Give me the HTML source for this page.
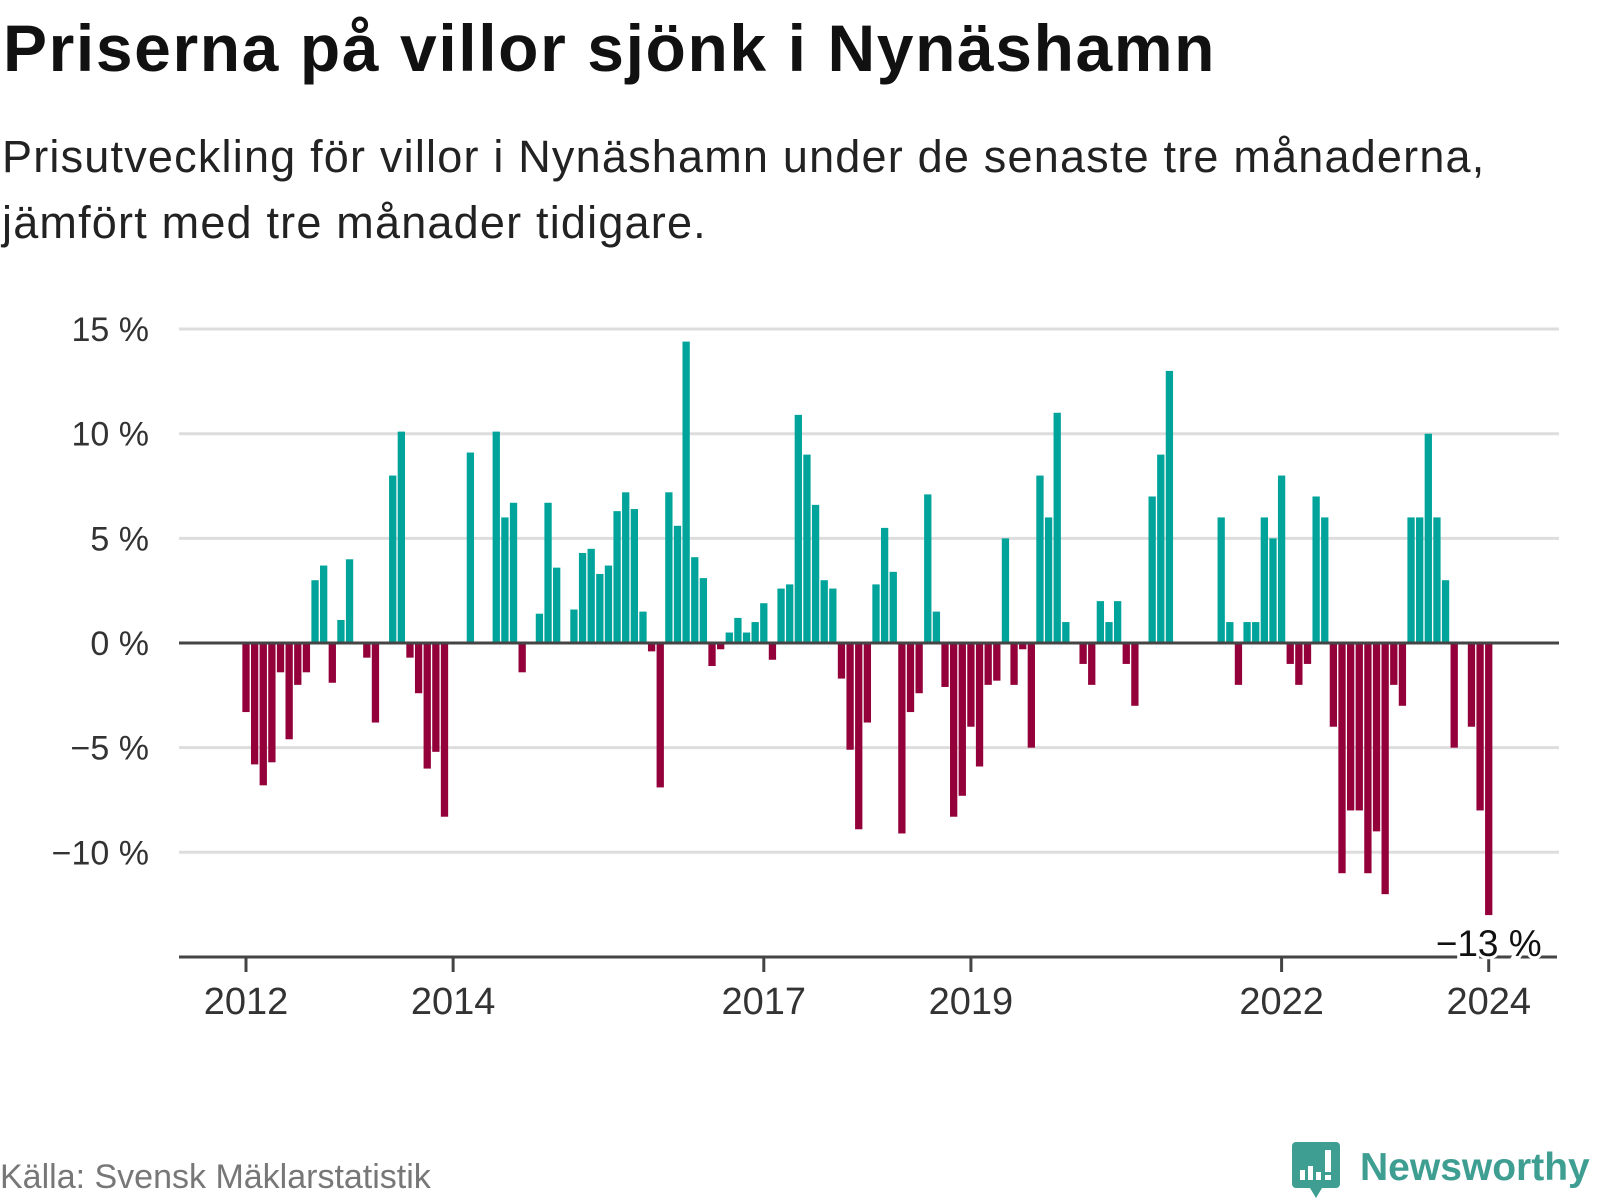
<!DOCTYPE html>
<html><head><meta charset="utf-8"><style>
html,body{margin:0;padding:0;background:#fff;}
body{width:1600px;height:1200px;position:relative;overflow:hidden;font-family:"Liberation Sans",sans-serif;}
.t{position:absolute;white-space:nowrap;}
</style></head><body>
<div class="t" style="left:3px;top:10px;font-size:66px;letter-spacing:1.6px;font-weight:bold;color:#111;">Priserna på villor sjönk i Nynäshamn</div>
<div class="t" style="left:2px;top:124px;font-size:45px;letter-spacing:1.2px;line-height:66px;color:#222;">Prisutveckling för villor i Nynäshamn under de senaste tre månaderna,<br>jämfört med tre månader tidigare.</div>
<svg id="chart" width="1600" height="1200" style="position:absolute;left:0;top:0;" xmlns="http://www.w3.org/2000/svg"></svg>
<div class="t" style="left:0;top:1158px;font-size:34px;color:#777;">Källa: Svensk Mäklarstatistik</div>
<div style="position:absolute;left:1292px;top:1142px;width:308px;height:58px;">
<svg width="50" height="58" style="position:absolute;left:0;top:0"><path d="M4 0H44a4 4 0 0 1 4 4V42a4 4 0 0 1-4 4H30L24 56 18 46H4a4 4 0 0 1-4-4V4a4 4 0 0 1 4-4Z" fill="#3e9e92"/><rect x="8" y="28" width="5" height="10" fill="#fff"/><rect x="16" y="24" width="5" height="14" fill="#fff"/><rect x="24" y="30" width="5" height="8" fill="#fff"/><rect x="33" y="8" width="6" height="22" fill="#fff"/><rect x="33" y="33" width="6" height="5" fill="#fff"/></svg>
<div class="t" style="left:68px;top:4px;font-size:39px;font-weight:bold;color:#3e9e92;">Newsworthy</div>
</div>
<script>
const values=[-3.3,-5.8,-6.8,-5.7,-1.4,-4.6,-2.0,-1.4,3.0,3.7,-1.9,1.1,
4.0,0,-0.7,-3.8,0,8.0,10.1,-0.7,-2.4,-6.0,-5.2,-8.3,
0,0,9.1,0,0,10.1,6.0,6.7,-1.4,0,1.4,6.7,
3.6,0,1.6,4.3,4.5,3.3,3.7,6.3,7.2,6.4,1.5,-0.4,
-6.9,7.2,5.6,14.4,4.1,3.1,-1.1,-0.3,0.5,1.2,0.5,1.0,
1.9,-0.8,2.6,2.8,10.9,9.0,6.6,3.0,2.6,-1.7,-5.1,-8.9,
-3.8,2.8,5.5,3.4,-9.1,-3.3,-2.4,7.1,1.5,-2.1,-8.3,-7.3,
-4.0,-5.9,-2.0,-1.8,5.0,-2.0,-0.3,-5.0,8.0,6.0,11.0,1.0,
0,-1.0,-2.0,2.0,1.0,2.0,-1.0,-3.0,0,7.0,9.0,13.0,
0,0,0,0,0,6.0,1.0,-2.0,1.0,1.0,6.0,5.0,
8.0,-1.0,-2.0,-1.0,7.0,6.0,-4.0,-11.0,-8.0,-8.0,-11.0,-9.0,
-12.0,-2.0,-3.0,6.0,6.0,10.0,6.0,3.0,-5.0,0,-4.0,-8.0,
-13.0];
const yTicks=[15,10,5,0,-5,-10];
const yTickLabels=["15 %","10 %","5 %","0 %","\u22125 %","\u221210 %"];
const xTickIndex=[0,24,60,84,120,144];
const xTickLabels=["2012","2014","2017","2019","2022","2024"];
const lastLabel="\u221213 %";

const NS="http://www.w3.org/2000/svg";
const svg=document.getElementById('chart');
const x0=246, step=8.63, bw=7.3;
const y0=643, ppu=20.93;
function xs(i){return x0+i*step;}
function ys(v){return y0-v*ppu;}
function mk(tag,attrs){const e=document.createElementNS(NS,tag);for(const k in attrs)e.setAttribute(k,attrs[k]);svg.appendChild(e);return e;}

yTicks.forEach((t,k)=>{
  if(t!==0){
    const g=mk('line',{x1:179,x2:1559,y1:ys(t),y2:ys(t),stroke:'#dddddd','stroke-width':3});
    
    
  }
  const lab=mk('text',{x:149,y:ys(t)+12,'text-anchor':'end','font-size':34,fill:'#333','font-family':'Liberation Sans, sans-serif'});
  lab.textContent=yTickLabels[k];
  
  
});

values.forEach((v,i)=>{
  if(v===0)return;
  const top=v>0?ys(v):y0, h=Math.abs(v)*ppu;
  const r=mk('rect',{x:xs(i)-bw/2,y:top,width:bw,height:h,fill:v>0?'#00a49a':'#93003a'});
  
  
});

const zl=mk('line',{x1:179,x2:1559,y1:y0,y2:y0,stroke:'#444','stroke-width':3});



const ax=mk('line',{x1:179,x2:1557,y1:957,y2:957,stroke:'#444','stroke-width':3});



xTickIndex.forEach((idx,k)=>{
  const tk=mk('line',{x1:xs(idx),x2:xs(idx),y1:957,y2:972,stroke:'#444','stroke-width':3});
  
  
  const lab=mk('text',{x:xs(idx),y:1014,'text-anchor':'middle','font-size':38,fill:'#333','font-family':'Liberation Sans, sans-serif'});
  lab.textContent=xTickLabels[k];
  
  
});

const li=values.length-1;
const ann=mk('text',{x:xs(li),y:956,'text-anchor':'middle','font-size':37,fill:'#111',stroke:'#fff','stroke-width':6,'paint-order':'stroke','font-family':'Liberation Sans, sans-serif'});
ann.textContent=lastLabel;


</script>
</body></html>
